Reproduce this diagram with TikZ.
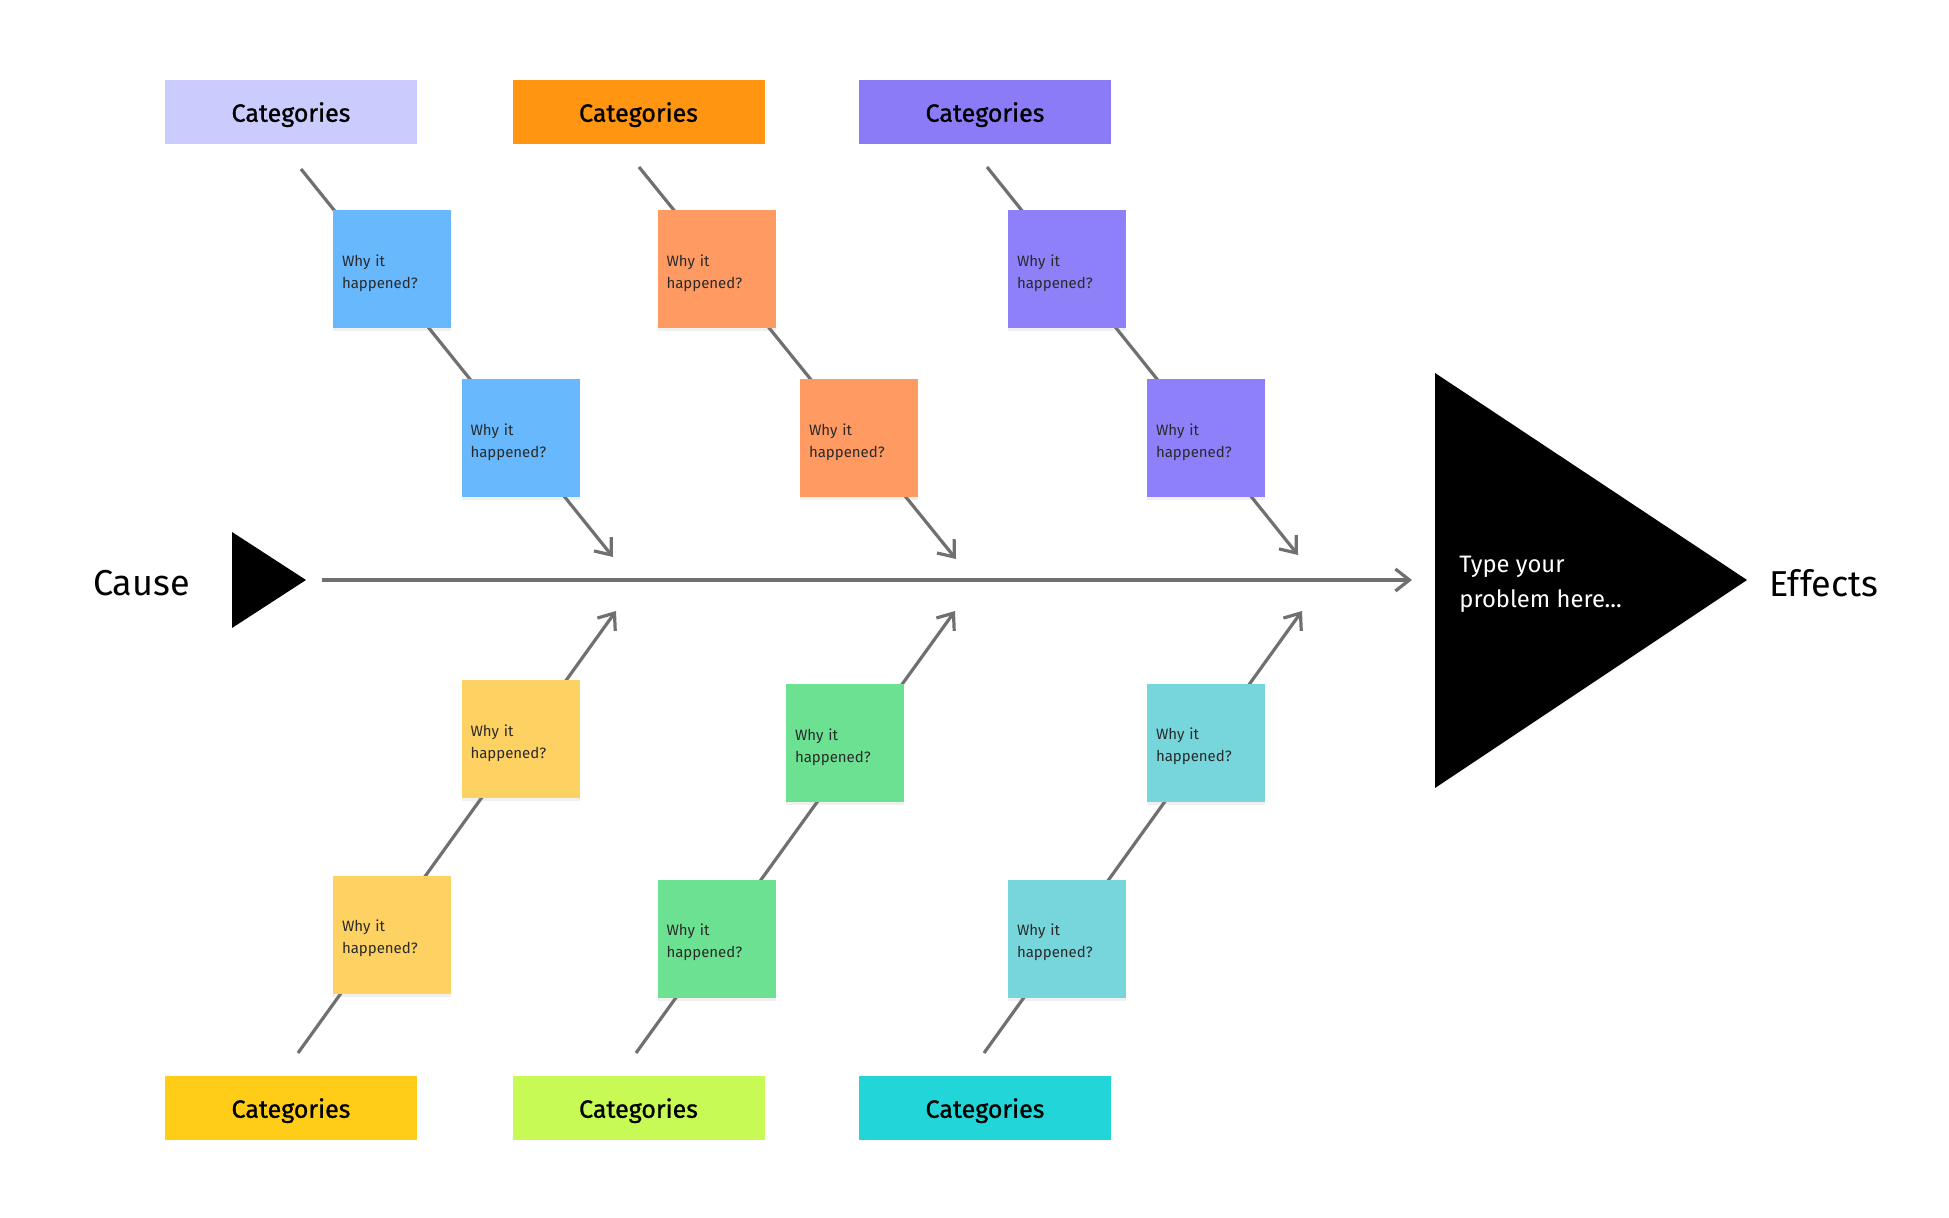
\documentclass[tikz,border=0pt]{standalone}
\usepackage{fontspec}
\setmainfont{Fira Sans}
\newfontfamily\catfont{Fira Sans}[FakeBold=1]
\usetikzlibrary{arrows.meta,positioning,shadows}
\definecolor{bone}{HTML}{707070}
\definecolor{stickytext}{HTML}{2A2A2A}
\definecolor{catA}{HTML}{C9CCFD}
\definecolor{catB}{HTML}{FF9510}
\definecolor{catC}{HTML}{8C7BF7}
\definecolor{catD}{HTML}{FFCC17}
\definecolor{catE}{HTML}{C7FA55}
\definecolor{catF}{HTML}{21D5D8}
\definecolor{stA}{HTML}{67B8FC}
\definecolor{stB}{HTML}{FF9A62}
\definecolor{stC}{HTML}{8D80F8}
\definecolor{stD}{HTML}{FDD262}
\definecolor{stE}{HTML}{6CE192}
\definecolor{stF}{HTML}{76D6DC}
\tikzset{%
   cat/.style={rectangle, inner sep=0mm, minimum width=126pt, minimum height=32pt,
     text depth=0pt, font=\catfont\fontsize{12.5}{15}\selectfont, text=black},
   sticky/.style={rectangle, inner sep=4.5pt, minimum size=59pt, text width=50pt, align=left,
     text height=9.3pt, font=\fontsize{7.5}{11}\selectfont, text=stickytext,
     drop shadow={shadow xshift=0pt, shadow yshift=-1.5pt, opacity=.12}},
   label/.style={inner sep=0pt, font=\fontsize{18}{22}\selectfont},
}
\tikzset{
  bonearrow/.style={
    draw=bone, line width=1.6pt,
    -{Straight Barb[length=7pt,width=11pt]}
  }
}

\begin{document}
\begin{tikzpicture}[x=0.5pt, y=-0.5pt]
      \useasboundingbox (0,0) rectangle (1949,1218);
      % bones
      \coordinate (s1) at (301,169);  \coordinate (t1) at (613,557);
      \coordinate (s2) at (639,167);  \coordinate (t2) at (956,559);
      \coordinate (s3) at (987,167);  \coordinate (t3) at (1298,555);
      \coordinate (s4) at (298,1053); \coordinate (t4) at (616,611);
      \coordinate (s5) at (636,1053); \coordinate (t5) at (955,611);
      \coordinate (s6) at (984,1053); \coordinate (t6) at (1302,611);
      \coordinate (spineS) at (322,580);
      \coordinate (spineE) at (1412,580);
      \draw[bonearrow] (s1) -- (t1);
      \draw[bonearrow] (s2) -- (t2);
      \draw[bonearrow] (s3) -- (t3);
      \draw[bonearrow] (s4) -- (t4);
      \draw[bonearrow] (s5) -- (t5);
      \draw[bonearrow] (s6) -- (t6);
      \draw[bonearrow] (spineS) -- (spineE);
      % head and tail
      \fill[black] (232,532) -- (306,580) -- (232,628) -- cycle;
      \fill[black] (1435,373) -- (1747,580) -- (1435,788) -- cycle;
      \node[label] (cause) at (141.5,583.5) {Cause};
      \node[label, anchor=west] (effects) at (1769,583.5) {Effects};
      \node[inner sep=0pt, anchor=north west, align=left, text=white,
        font=\fontsize{11.9}{17.5}\selectfont] (problem) at (1459,556) {Type your\\problem here...};
      % categories
      \node[cat, fill=catA] (cat1) at (291,112) {Categories};
      \node[cat, fill=catB] (cat2) at (638.5,112) {Categories};
      \node[cat, fill=catC] (cat3) at (985,112) {Categories};
      \node[cat, fill=catD] (cat4) at (291,1108) {Categories};
      \node[cat, fill=catE] (cat5) at (638.5,1108) {Categories};
      \node[cat, fill=catF] (cat6) at (985,1108) {Categories};
      % why it happened
      \node[sticky, fill=stA] (why1a) at (392,269.5) {Why it\\happened?};
      \node[sticky, fill=stA] (why1b) at (520.5,438.5) {Why it\\happened?};
      \node[sticky, fill=stB] (why2a) at (716.5,269.5) {Why it\\happened?};
      \node[sticky, fill=stB] (why2b) at (859,438.5) {Why it\\happened?};
      \node[sticky, fill=stC] (why3a) at (1067,269.5) {Why it\\happened?};
      \node[sticky, fill=stC] (why3b) at (1206,438.5) {Why it\\happened?};
      \node[sticky, fill=stD] (why4a) at (392,935) {Why it\\happened?};
      \node[sticky, fill=stD] (why4b) at (520.5,739.5) {Why it\\happened?};
      \node[sticky, fill=stE] (why5a) at (716.5,938.5) {Why it\\happened?};
      \node[sticky, fill=stE] (why5b) at (845,743.5) {Why it\\happened?};
      \node[sticky, fill=stF] (why6a) at (1067,938.5) {Why it\\happened?};
      \node[sticky, fill=stF] (why6b) at (1206,743) {Why it\\happened?};
   \end{tikzpicture}
\end{document}
